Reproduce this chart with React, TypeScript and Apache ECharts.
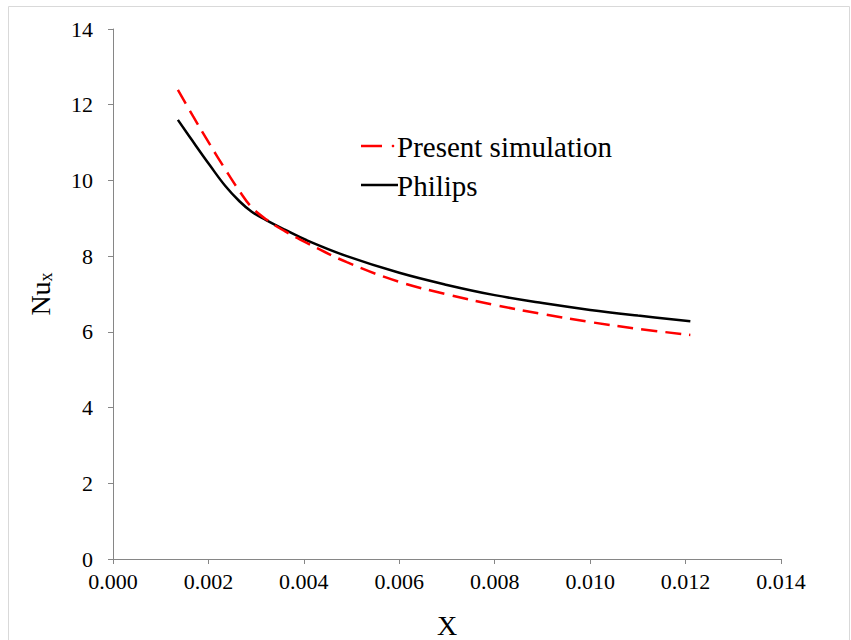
import React, { useEffect, useRef } from "react";
import * as echarts from "echarts";

const xValues = [0.00136, 0.00168, 0.00203, 0.00235, 0.00265, 0.0029, 0.0032, 0.0036, 0.00406, 0.0049, 0.006, 0.007, 0.008, 0.009, 0.010, 0.011, 0.0121];
const presentSimulation = [12.39, 11.69, 10.95, 10.3, 9.72, 9.3, 8.98, 8.66, 8.35, 7.84, 7.32, 6.99, 6.71, 6.47, 6.26, 6.08, 5.92];
const philips = [11.6, 11.02, 10.4, 9.86, 9.45, 9.18, 8.96, 8.7, 8.42, 8.0, 7.56, 7.24, 6.97, 6.76, 6.58, 6.43, 6.28];
const xTicks = { min: 0, max: 0.014, interval: 0.002 };
const yTicks = { min: 0, max: 14, interval: 2 };
const legendNames = ["Present simulation", "Philips"];

const FONT = "Liberation Serif";
const tickRich = { t: { fontFamily: FONT, fontSize: 22, color: "#000" } };

export default function App() {
  const ref = useRef<HTMLDivElement>(null);
  useEffect(() => {
    document.body.style.margin = "0";
    const chart = echarts.init(ref.current!, null, { renderer: "svg" });
    const axisColor = "#868686";
    chart.setOption({
      animation: false,
      backgroundColor: "#fff",
      textStyle: { fontFamily: FONT },
      graphic: [
        {
          type: "rect",
          shape: { x: 8.5, y: 6.5, width: 841, height: 660 },
          style: { fill: "none", stroke: "#d9d9d9", lineWidth: 1 },
          silent: true,
        },
        {
          type: "line",
          shape: { x1: 361, y1: 146, x2: 382, y2: 146 },
          style: { stroke: "#ff0000", lineWidth: 2.5 },
        },
        {
          type: "circle",
          shape: { cx: 393, cy: 146, r: 1.3 },
          style: { fill: "#ff0000" },
        },
        {
          type: "text",
          x: 397,
          y: 147,
          style: { text: legendNames[0], font: `29px ${FONT}`, fill: "#000", verticalAlign: "middle" },
        },
        {
          type: "line",
          shape: { x1: 361, y1: 185, x2: 398, y2: 185 },
          style: { stroke: "#000", lineWidth: 2.5 },
        },
        {
          type: "text",
          x: 397,
          y: 186,
          style: { text: legendNames[1], font: `29px ${FONT}`, fill: "#000", verticalAlign: "middle" },
        },
      ],
      grid: { left: 113, right: 70, top: 29, bottom: 81, outerBoundsMode: "none", containLabel: false },
      xAxis: {
        type: "value",
        min: xTicks.min,
        max: xTicks.max,
        interval: xTicks.interval,
        name: "{a|X}",
        nameLocation: "middle",
        nameGap: 52,
        nameTextStyle: { rich: { a: { fontFamily: FONT, fontSize: 28, color: "#000" } } },
        axisLine: { show: true, lineStyle: { color: axisColor, width: 1 } },
        axisTick: { show: true, inside: false, length: 5, lineStyle: { color: axisColor } },
        splitLine: { show: false },
        axisLabel: {
          margin: 11,
          rich: tickRich,
          formatter: (v: number) => `{t|${v.toFixed(3)}}`,
        },
      },
      yAxis: {
        type: "value",
        min: yTicks.min,
        max: yTicks.max,
        interval: yTicks.interval,
        name: "{a|Nu}{b|x}",
        nameLocation: "middle",
        nameGap: 58,
        nameRotate: 90,
        nameTextStyle: {
          rich: {
            a: { fontFamily: FONT, fontSize: 28, color: "#000" },
            b: { fontFamily: FONT, fontSize: 18, color: "#000", verticalAlign: "bottom", padding: [12, 0, 0, 0] },
          },
        },
        axisLine: { show: true, lineStyle: { color: axisColor, width: 1 } },
        axisTick: { show: true, inside: false, length: 5, lineStyle: { color: axisColor } },
        splitLine: { show: false },
        axisLabel: {
          margin: 20,
          rich: tickRich,
          formatter: (v: number) => `{t|${v}}`,
        },
      },
      series: [
        {
          name: legendNames[0],
          type: "line",
          smooth: 0.4,
          symbol: "none",
          data: xValues.map((x, i) => [x, presentSimulation[i]]),
          lineStyle: { color: "#ff0000", width: 2.5, type: [16, 8] },
          z: 3,
        },
        {
          name: legendNames[1],
          type: "line",
          smooth: 0.4,
          symbol: "none",
          data: xValues.map((x, i) => [x, philips[i]]),
          lineStyle: { color: "#000", width: 2.5 },
          z: 2,
        },
      ],
    });
    return () => chart.dispose();
  }, []);
  return <div ref={ref} style={{ width: 851, height: 640 }} />;
}
